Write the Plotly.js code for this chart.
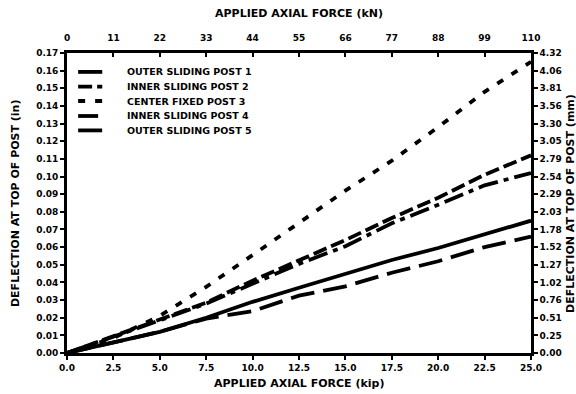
<!DOCTYPE html>
<html>
<head>
<meta charset="utf-8">
<script src="https://cdn.plot.ly/plotly-3.0.1.min.js"></script>
<style>html,body{margin:0;padding:0;background:#fff;}#chart{width:576px;height:394px;}</style>
</head>
<body>
<div id="chart"></div>
<script>
// Applied axial force (kip)
const forceKip = [0, 2.5, 5, 7.5, 10, 12.5, 15, 17.5, 20, 22.5, 25];
// Deflection at top of post (in)
const post1 = [0, 0.0060, 0.0120, 0.0200, 0.0290, 0.0370, 0.0450, 0.0527, 0.0595, 0.0670, 0.0750];
const post2 = [0, 0.0095, 0.0190, 0.0285, 0.0410, 0.0525, 0.0640, 0.0765, 0.0880, 0.1010, 0.1120];
const post3 = [0, 0.0085, 0.0210, 0.0375, 0.0555, 0.0735, 0.0920, 0.1090, 0.1280, 0.1480, 0.1650];
const post4 = [0, 0.0090, 0.0185, 0.0280, 0.0395, 0.0505, 0.0605, 0.0735, 0.0840, 0.0950, 0.1020];
const post5 = [0, 0.0060, 0.0120, 0.0195, 0.0237, 0.0325, 0.0378, 0.0455, 0.0520, 0.0600, 0.0660];
const seriesNames = ['OUTER SLIDING POST 1', 'INNER SLIDING POST 2', 'CENTER FIXED POST 3', 'INNER SLIDING POST 4', 'OUTER SLIDING POST 5'];

// Tick labels
const kipTicks = [0, 2.5, 5, 7.5, 10, 12.5, 15, 17.5, 20, 22.5, 25];
const kipLabels = ['0.0', '2.5', '5.0', '7.5', '10.0', '12.5', '15.0', '17.5', '20.0', '22.5', '25.0'];
const kNLabels = ['0', '11', '22', '33', '44', '55', '66', '77', '88', '99', '110'];
const inTicks = [0, 0.01, 0.02, 0.03, 0.04, 0.05, 0.06, 0.07, 0.08, 0.09, 0.10, 0.11, 0.12, 0.13, 0.14, 0.15, 0.16, 0.17];
const inLabels = ['0.00', '0.01', '0.02', '0.03', '0.04', '0.05', '0.06', '0.07', '0.08', '0.09', '0.10', '0.11', '0.12', '0.13', '0.14', '0.15', '0.16', '0.17'];
const mmLabels = ['0.00', '0.25', '0.51', '0.76', '1.02', '1.27', '1.52', '1.78', '2.03', '2.29', '2.54', '2.79', '3.05', '3.30', '3.56', '3.81', '4.06', '4.32'];

const FONT = 'DejaVu Sans, Liberation Sans, sans-serif';
const dashes = ['solid', '14px,5px', '7px,10px', '20px,6px,5px,6px', '24px,9px'];
const ys = [post1, post2, post3, post4, post5];
const LW = 3.8;

const traces = ys.map((y, i) => ({
  x: forceKip, y: y, name: seriesNames[i], type: 'scatter', mode: 'lines',
  line: {color: '#000', width: LW, dash: dashes[i]}, showlegend: false
}));
// invisible helper traces to activate secondary axes
traces.push({x: [0, 25], y: [0, 0.17], xaxis: 'x2', yaxis: 'y', mode: 'markers', marker: {opacity: 0}, showlegend: false, hoverinfo: 'skip'});
traces.push({x: [0, 25], y: [0, 0.17], xaxis: 'x', yaxis: 'y2', mode: 'markers', marker: {opacity: 0}, showlegend: false, hoverinfo: 'skip'});

const tickFont = {family: FONT, size: 9, color: '#000', weight: 'bold'};
const titleFont = {family: FONT, size: 11, color: '#000', weight: 'bold'};
const legendFont = {family: FONT, size: 9.5, color: '#000', weight: 'bold'};

// Legend drawn as shapes + annotations (in paper coordinates)
const legendY = [0.937, 0.888, 0.840, 0.790, 0.742];
const shapes = [];
const annotations = [];
seriesNames.forEach((nm, i) => {
  shapes.push({type: 'line', xref: 'paper', yref: 'paper', x0: 0.024, x1: 0.076, y0: legendY[i], y1: legendY[i],
               line: {color: '#000', width: LW, dash: dashes[i]}});
  annotations.push({text: nm, xref: 'paper', yref: 'paper', x: 0.125, y: legendY[i], xanchor: 'left', yanchor: 'middle',
                    showarrow: false, font: legendFont});
});
annotations.push({text: 'APPLIED AXIAL FORCE (kN)', xref: 'paper', yref: 'paper', x: 0.5, y: 1.133, xanchor: 'center', yanchor: 'middle', showarrow: false, font: titleFont});
annotations.push({text: 'APPLIED AXIAL FORCE (kip)', xref: 'paper', yref: 'paper', x: 0.5, y: -0.1, xanchor: 'center', yanchor: 'middle', showarrow: false, font: titleFont});
annotations.push({text: 'DEFLECTION AT TOP OF POST (in)', xref: 'paper', yref: 'paper', x: -0.112, y: 0.5, xanchor: 'center', yanchor: 'middle', textangle: -90, showarrow: false, font: titleFont});
annotations.push({text: 'DEFLECTION AT TOP OF POST (mm)', xref: 'paper', yref: 'paper', x: 1.084, y: 0.5, xanchor: 'center', yanchor: 'middle', textangle: -90, showarrow: false, font: titleFont});

const axisCommon = {tickwidth: 2, tickcolor: '#000', showline: true, linewidth: 2.8, linecolor: '#000',
                    showgrid: false, zeroline: false, tickfont: tickFont};

const layout = {
  width: 576, height: 394,
  margin: {l: 67, r: 45, t: 53, b: 41},
  paper_bgcolor: '#fff', plot_bgcolor: '#fff',
  showlegend: false,
  xaxis: Object.assign({range: [0, 25], tickvals: kipTicks, ticktext: kipLabels, ticks: 'outside', ticklen: 4}, axisCommon),
  xaxis2: Object.assign({range: [0, 25], overlaying: 'x', side: 'top', tickvals: kipTicks, ticktext: kNLabels,
           ticks: 'inside', ticklen: 4, ticklabelstandoff: 6}, axisCommon),
  yaxis: Object.assign({range: [0, 0.17], tickvals: inTicks, ticktext: inLabels, ticks: 'outside', ticklen: 4}, axisCommon),
  yaxis2: Object.assign({range: [0, 0.17], overlaying: 'y', side: 'right', tickvals: inTicks, ticktext: mmLabels,
           ticks: 'outside', ticklen: 4}, axisCommon),
  shapes: shapes,
  annotations: annotations
};

Plotly.newPlot('chart', traces, layout, {displayModeBar: false, staticPlot: true});
</script>
</body>
</html>
